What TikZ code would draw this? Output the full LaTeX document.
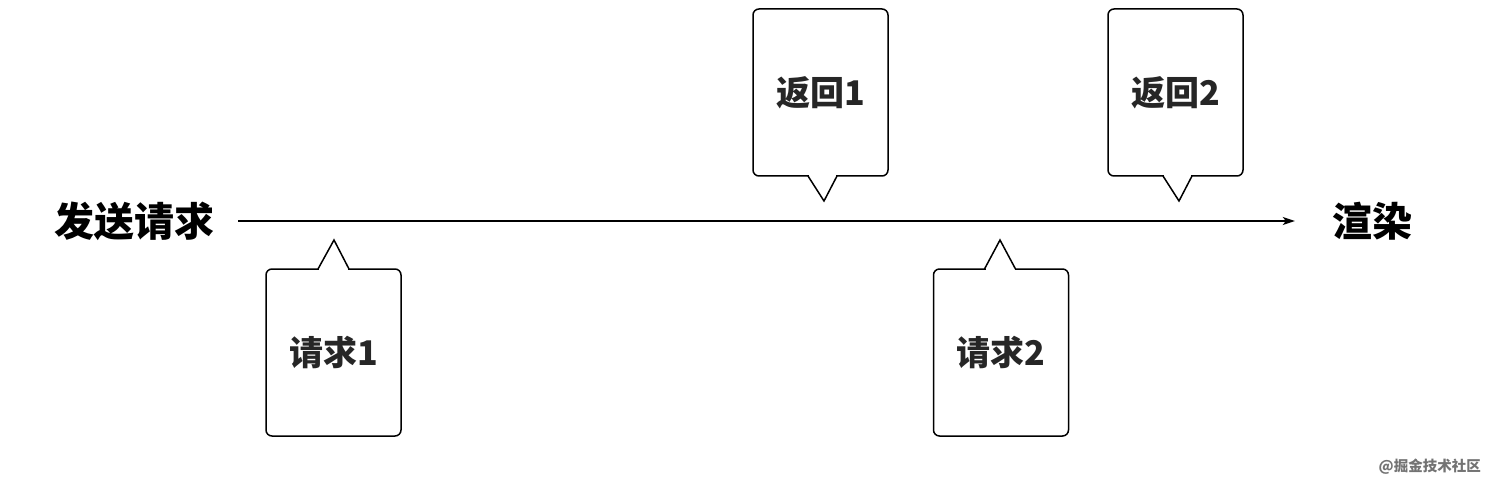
\documentclass[tikz,border=0pt]{standalone}
\usepackage{fontspec}
\setmainfont{Noto Sans CJK SC}
\usetikzlibrary{arrows.meta}
\begin{document}
\begin{tikzpicture}[x=1pt,y=-1pt,
  box/.style={draw, line width=1.5pt, rounded corners=6pt, minimum width=135pt, minimum height=167pt, inner sep=0pt, outer sep=0pt, font=\fontsize{34}{40}\selectfont\bfseries, text=black!85},
  tailline/.style={draw, line width=1.5pt, line join=miter},
  big/.style={font=\fontsize{40}{48}\selectfont\bfseries, inner sep=0pt},
  wmtext/.style={font=\fontsize{14.5}{16}\selectfont\bfseries, text=black!55, inner sep=0pt}]
\useasboundingbox (0,0) rectangle (1492,484);
% main axis
\node[big] (send) at (134,221) {发送请求};
\node[big] (render) at (1372,221) {渲染};
\draw[line width=1.5pt, -{Stealth[length=12pt,width=8pt,inset=3pt]}, shorten <=24pt, shorten >=37pt] (send.east) -- (render.west);
% callouts above
\node[box] (r1) at (820.5,92.5) {返回1};
\node[box] (r2) at (1175.5,92.5) {返回2};
% callouts below
\node[box] (q1) at (333.5,352.5) {请求1};
\node[box] (q2) at (1001,352.5) {请求2};
% tails
\coordinate (r1tip) at ([xshift=3.5pt,yshift=-25pt]r1.south);
\fill[white] ([xshift=-11.5pt,yshift=1.5pt]r1.south) rectangle ([xshift=15.5pt,yshift=-1.5pt]r1.south);
\draw[tailline] ([xshift=-12.5pt]r1.south) -- (r1tip) -- ([xshift=16.5pt]r1.south);
\coordinate (r2tip) at ([xshift=3.5pt,yshift=-25pt]r2.south);
\fill[white] ([xshift=-11.5pt,yshift=1.5pt]r2.south) rectangle ([xshift=15.5pt,yshift=-1.5pt]r2.south);
\draw[tailline] ([xshift=-12.5pt]r2.south) -- (r2tip) -- ([xshift=16.5pt]r2.south);
\coordinate (q1tip) at ([xshift=0.5pt,yshift=29pt]q1.north);
\fill[white] ([xshift=-14.5pt,yshift=1.5pt]q1.north) rectangle ([xshift=14.5pt,yshift=-1.5pt]q1.north);
\draw[tailline] ([xshift=-15.5pt]q1.north) -- (q1tip) -- ([xshift=15.5pt]q1.north);
\coordinate (q2tip) at ([xshift=-1pt,yshift=29pt]q2.north);
\fill[white] ([xshift=-15.5pt,yshift=1.5pt]q2.north) rectangle ([xshift=13.5pt,yshift=-1.5pt]q2.north);
\draw[tailline] ([xshift=-16.5pt]q2.north) -- (q2tip) -- ([xshift=14.5pt]q2.north);
% watermark
\node[wmtext, anchor=east] (wm) at (1481,467) {@掘金技术社区};
\end{tikzpicture}
\end{document}
